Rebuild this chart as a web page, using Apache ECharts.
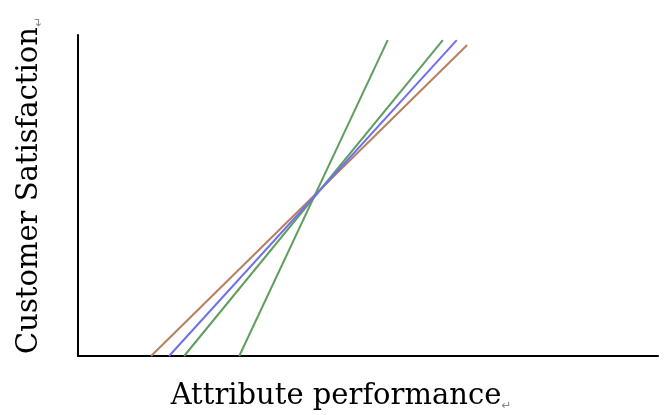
<!DOCTYPE html>
<html><head><meta charset="utf-8">
<script src="https://cdn.jsdelivr.net/npm/echarts@6/dist/echarts.min.js"></script>
<style>html,body{margin:0;padding:0;background:#fff}#c{width:664px;height:415px}</style>
</head><body><div id="c"></div>
<script>
// Line endpoints [x, y] in abstract units (0-100 on each axis)
const brownLine = [[12.6, 0], [67.1, 96.9]];
const blueLine = [[15.7, 0], [65.3, 98.4]];
const greenLine = [[18.3, 0], [62.9, 98.4]];
const steepGreenLine = [[27.8, 0], [53.4, 98.4]];
const seriesNames = ['brown', 'blue', 'green', 'steepGreen'];
const colors = ['#b5805e', '#6f6ff0', '#5e9e5e', '#5e9e5e'];
const xTitle = 'Attribute performance';
const yTitle = 'Customer Satisfaction';

const chart = echarts.init(document.getElementById('c'));
const lines = [brownLine, blueLine, greenLine, steepGreenLine];
const titleRich = {
  t: {fontFamily: 'DejaVu Serif', fontSize: 29, color: '#000', lineHeight: 32},
  m: {fontFamily: 'DejaVu Sans', fontSize: 12, color: '#888', lineHeight: 32, verticalAlign: 'bottom'}
};
chart.setOption({
  animation: false,
  backgroundColor: '#fff',
  grid: {left: 78, top: 35, right: 6, bottom: 59, containLabel: false, outerBoundsMode: 'none'},
  xAxis: {
    type: 'value', min: 0, max: 100,
    axisLine: {show: true, lineStyle: {color: '#000', width: 2}},
    axisTick: {show: false}, axisLabel: {show: false}, splitLine: {show: false},
    name: '{t|' + xTitle + '}{m|↵}', nameLocation: 'middle', nameGap: 24,
    nameTextStyle: {rich: titleRich, lineHeight: 32, padding: [0, 54, 0, 0]}
  },
  yAxis: {
    type: 'value', min: 0, max: 100,
    axisLine: {show: true, lineStyle: {color: '#000', width: 2}},
    axisTick: {show: false}, axisLabel: {show: false}, splitLine: {show: false},
    name: '{t|' + yTitle + '}{m|↵}', nameLocation: 'middle', nameGap: 33, nameRotate: 90,
    nameTextStyle: {rich: titleRich, lineHeight: 32, padding: [0, 0, 0, 20]}
  },
  series: lines.map((d, i) => ({
    name: seriesNames[i], type: 'line', data: d, symbol: 'none',
    lineStyle: {color: colors[i], width: 2}, z: i === 1 ? 5 : 3
  }))
});
</script></body></html>
